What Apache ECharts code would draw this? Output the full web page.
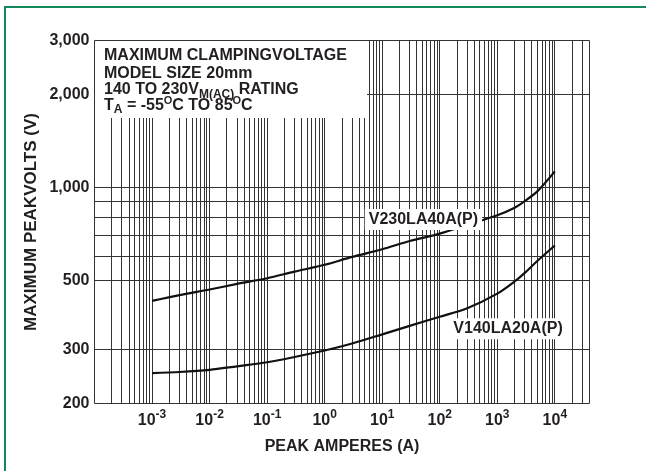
<!DOCTYPE html>
<html><head><meta charset="utf-8">
<script src="https://cdn.jsdelivr.net/npm/echarts@6/dist/echarts.min.js"></script>
<style>html,body{margin:0;padding:0;background:#fff}#c{width:646px;height:471px}</style>
</head><body><div id="c"></div>
<script>
// ---- data ----
const currentA  = [0.001, 0.003, 0.01, 0.03, 0.1, 0.3, 1, 3, 10, 30, 100, 300, 1000, 2000, 3000, 5000, 10000];
const v230la40a = [430, 449, 468, 488, 509, 535, 563, 597, 632, 672, 710, 758, 815, 862, 905, 975, 1130];
const v140la20a = [251, 253, 257, 264, 272, 283, 297, 313, 335, 357, 382, 407, 454, 497, 530, 580, 650];
const seriesNames = ['V230LA40A(P)', 'V140LA20A(P)'];
const labelAnchorV230 = [52, 789];
const labelAnchorV140 = [1535, 349];

// ---- axes / ticks ----
const xTickValues = [0.001, 0.01, 0.1, 1, 10, 100, 1000, 10000];
const xTickExponents = ['-3', '-2', '-1', '0', '1', '2', '3', '4'];
const yTickValues = [200, 300, 500, 1000, 2000, 3000];
const yTickLabels = ['200', '300', '500', '1,000', '2,000', '3,000'];
const yGridValues = [300, 500, 600, 700, 800, 900, 1000, 2000];
const gridMantissas = [1, 2, 3, 4, 5, 6, 7, 8, 9];
const gridDecades = [-4, -3, -2, -1, 0, 1, 2, 3, 4];
const xMin = 1e-4, xMax = 4e4, yMin = 200, yMax = 3000;

const titleLines = [
  '{n|MAXIMUM CLAMPINGVOLTAGE}',
  '{n|MODEL SIZE 20mm}',
  '{n|140 TO 230V}{sb|M(AC)}{n| RATING}',
  '{n|T}{sb|A}{n| = -55}{sp|O}{n|C TO 85}{sp|O}{n|C}'
];

const FONT = "'Liberation Sans', Arial, Helvetica, sans-serif";
const INK = '#231f20';
const GRIDC = '#333333';

function tok(size, lh, pad) {
  const t = {fontSize: size, fontWeight: 'bold', fontFamily: FONT, fill: INK, color: INK,
    lineHeight: lh, verticalAlign: 'middle'};
  if (pad) t.padding = pad;
  return t;
}
const crisp = v => Math.round(v - 0.5) + 0.5;

const xGridValues = [];
gridDecades.forEach(e => gridMantissas.forEach(k => {
  const v = Number((k * Math.pow(10, e)).toPrecision(6));
  if (v > xMin * 1.0001 && v < xMax * 0.9999) xGridValues.push(v);
}));

function curve(name, vals, anchor) {
  return {
    type: 'line', name: name, z: 10,
    data: currentA.map((a, i) => [a, vals[i]]),
    smooth: 0.3, symbol: 'none', showSymbol: false,
    lineStyle: {color: '#111', width: 2.2},
    emphasis: {disabled: true}, silent: true,
    markPoint: {
      z: 20, silent: true, symbol: 'rect', symbolSize: 1,
      itemStyle: {color: 'rgba(0,0,0,0)'},
      label: {show: true, position: 'inside', formatter: name, color: INK, fontSize: 16,
        fontWeight: 'bold', fontFamily: FONT, backgroundColor: '#fff', padding: [3, 4, 2, 4]},
      data: [{coord: anchor}]
    }
  };
}

const chart = echarts.init(document.getElementById('c'), null, {renderer: 'canvas'});
const titleGraphics = titleLines.map((t, i) => ({
  type: 'text', z: 110, silent: true,
  x: 104, y: [47.3, 65.7, 81.8, 97.5][i],
  style: {
    text: t, verticalAlign: 'top', align: 'left',
    fontSize: 16, fontWeight: 'bold', fontFamily: FONT, fill: INK,
    rich: {n: tok(16, 16), sb: tok(12, 16, [9, 0, 0, 0]), sp: tok(11, 16, [0, 0, 9, 0])}
  }
}));

chart.setOption({
  animation: false,
  backgroundColor: '#fff',
  textStyle: {fontFamily: FONT},
  grid: {left: 94.5, top: 40.5, width: 495, height: 363, show: true,
    borderColor: '#333', borderWidth: 1, backgroundColor: 'transparent'},
  xAxis: {
    type: 'log', logBase: 10, min: xMin, max: xMax,
    name: 'PEAK AMPERES (A)', nameLocation: 'middle', nameGap: 35,
    nameTextStyle: {color: INK, fontSize: 16, fontWeight: 'bold', fontFamily: FONT},
    axisLine: {show: false}, axisTick: {show: false}, axisLabel: {show: false}, splitLine: {show: false}
  },
  yAxis: {
    type: 'log', logBase: 10, min: yMin, max: yMax,
    name: 'MAXIMUM PEAKVOLTS (V)', nameLocation: 'middle', nameGap: 55, nameRotate: 90,
    nameTextStyle: {color: INK, fontSize: 17, fontWeight: 'bold', fontFamily: FONT},
    axisLine: {show: false}, axisTick: {show: false}, axisLabel: {show: false}, splitLine: {show: false}
  },
  series: [
    { // vertical grid lines
      type: 'custom', z: 1, silent: true,
      data: xGridValues.map(v => [v, yMin]),
      renderItem: (p, api) => {
        const v = api.value(0);
        const a = api.coord([v, yMin]), b = api.coord([v, yMax]);
        const x = crisp(a[0]);
        return {type: 'line', shape: {x1: x, y1: a[1], x2: x, y2: b[1]},
          style: {stroke: GRIDC, lineWidth: 1}};
      }
    },
    { // horizontal grid lines
      type: 'custom', z: 1, silent: true,
      data: yGridValues.map(v => [xMin, v]),
      renderItem: (p, api) => {
        const v = api.value(1);
        const a = api.coord([xMin, v]), b = api.coord([xMax, v]);
        const y = crisp(a[1]);
        return {type: 'line', shape: {x1: a[0], y1: y, x2: b[0], y2: y},
          style: {stroke: GRIDC, lineWidth: 1}};
      }
    },
    { // x tick labels
      type: 'custom', z: 5, silent: true,
      data: xTickValues.map(v => [v, yMin]),
      renderItem: (p, api) => {
        const a = api.coord([api.value(0), yMin]);
        return {type: 'text', x: a[0], y: a[1] + 7,
          style: {text: '{b|10}{s|' + xTickExponents[p.dataIndex] + '}', align: 'center', verticalAlign: 'top',
            fontSize: 16, fontWeight: 'bold', fontFamily: FONT, fill: INK,
            rich: {b: tok(16, 20), s: tok(12, 20, [0, 0, 11, 0])}}};
      }
    },
    { // y tick labels
      type: 'custom', z: 5, silent: true,
      data: yTickValues.map(v => [xMin, v]),
      renderItem: (p, api) => {
        const a = api.coord([xMin, api.value(1)]);
        return {type: 'text', x: a[0] - 5, y: a[1],
          style: {text: yTickLabels[p.dataIndex], align: 'right', verticalAlign: 'middle',
            fontSize: 16, fontWeight: 'bold', fontFamily: FONT, fill: INK}};
      }
    },
    curve(seriesNames[0], v230la40a, labelAnchorV230),
    curve(seriesNames[1], v140la20a, labelAnchorV140)
  ],
  graphic: [
    {type: 'rect', z: 100, silent: true, shape: {x: 5, y: 7, width: 700, height: 500},
      style: {fill: 'none', stroke: '#14885a', lineWidth: 2}},
    {type: 'rect', z: 105, silent: true, shape: {x: 95, y: 41, width: 272, height: 77},
      style: {fill: '#fff'}}
  ].concat(titleGraphics)
});
</script>
</body></html>
